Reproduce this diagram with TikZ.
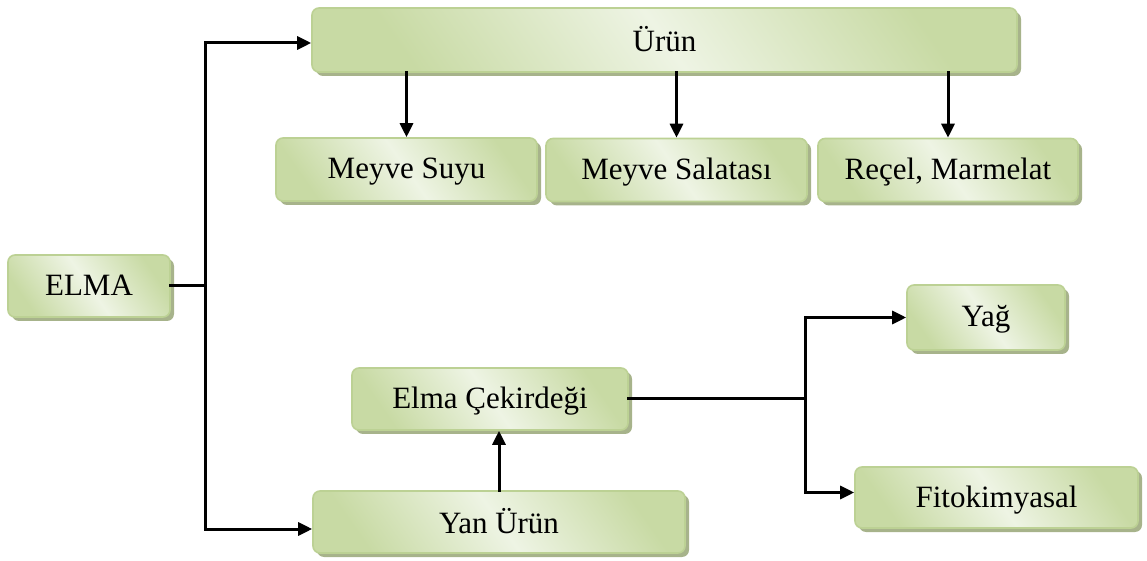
\documentclass[tikz,border=0pt]{standalone}
\usepackage{fontspec}
\setmainfont{Liberation Serif}
\usetikzlibrary{arrows.meta,shadows}
\definecolor{boxlight}{HTML}{EEF4E4}
\definecolor{boxdark}{HTML}{C8DAA4}
\definecolor{boxedge}{HTML}{BCD194}
\definecolor{boxshadow}{HTML}{A7B38B}

\begin{document}
\begin{tikzpicture}[x=0.5pt,y=-0.5pt,
    kutu/.style={draw=boxedge,line width=0.8pt,rounded corners=3.5pt,
      left color=boxdark,right color=boxdark,middle color=boxlight,shading angle=125,
      drop shadow={shadow xshift=2pt,shadow yshift=-2pt,fill=boxshadow,opacity=1},
      font=\fontsize{15.5}{18}\selectfont,inner sep=0pt,text depth=0.25ex},
    hat/.style={line width=1.5pt,line cap=rect},
    ok/.style={hat,-{Triangle[length=7pt,width=6.5pt]}}]
    \useasboundingbox (0,0) rectangle (1147,561);
    % kutular
    \node[kutu,minimum width=81pt,minimum height=31pt] (elma) at (89,286) {ELMA};
    \node[kutu,minimum width=352.5pt,minimum height=32pt] (urun) at (664.5,40) {Ürün};
    \node[kutu,minimum width=130.5pt,minimum height=31.5pt] (msuyu) at (406.5,169.5) {Meyve Suyu};
    \node[kutu,minimum width=130.5pt,minimum height=31.5pt] (msalata) at (676.5,170) {Meyve Salatası};
    \node[kutu,minimum width=130pt,minimum height=31.5pt] (recel) at (948,170) {Reçel, Marmelat};
    \node[kutu,minimum width=138pt,minimum height=31pt] (cekirdek) at (490,399) {Elma Çekirdeği};
    \node[kutu,minimum width=186pt,minimum height=31pt] (yanurun) at (499,522) {Yan Ürün};
    \node[kutu,minimum width=79pt,minimum height=32.5pt] (yag) at (986,317.5) {Yağ};
    \node[kutu,minimum width=141.5pt,minimum height=30.5pt] (fito) at (996.5,497.5) {Fitokimyasal};
    % baglantilar
    \coordinate (sol) at (205,286);
    \coordinate (sag) at (805,399);
    \draw[hat] (elma.east) -- (sol);
    \draw[ok] (sol) |- ([yshift=-1.5pt]urun.west);
    \draw[ok] (sol) |- ([yshift=-3.5pt]yanurun.west);
    \foreach \c in {msuyu,msalata,recel}
      \draw[ok] (urun.south -| \c.north) -- (\c.north);
    \draw[ok] (yanurun.north) -- (yanurun.north |- cekirdek.south);
    \draw[hat] (cekirdek.east) -- (sag);
    \draw[ok] (sag) |- (yag.west);
    \draw[ok] (sag) |- ([yshift=2.5pt]fito.west);
\end{tikzpicture}
\end{document}
